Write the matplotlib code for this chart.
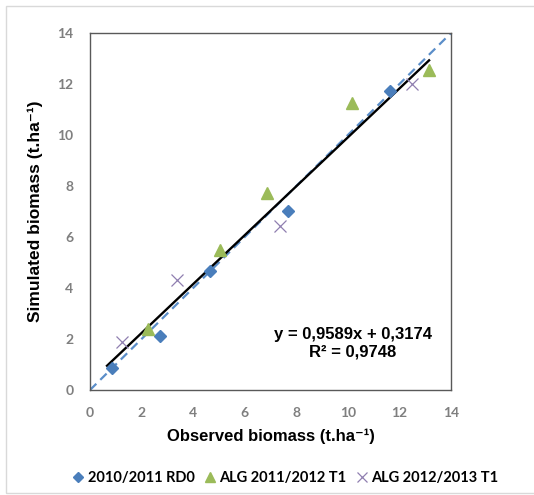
import matplotlib.pyplot as plt
from matplotlib.patches import Rectangle

# observed / simulated biomass (t.ha-1)
obs_rd0 = [0.86, 2.71, 4.65, 7.69, 11.65]
sim_rd0 = [0.87, 2.13, 4.68, 7.03, 11.74]

obs_t1_1112 = [2.26, 5.04, 6.85, 10.17, 13.15]
sim_t1_1112 = [2.38, 5.49, 7.74, 11.24, 12.55]

obs_t1_1213 = [1.25, 3.36, 7.36, 12.49]
sim_t1_1213 = [1.90, 4.31, 6.44, 11.99]

slope, intercept = 0.9589, 0.3174
r2_text = "R² = 0,9748"
eq_text = "y = 0,9589x + 0,3174"
ticks = [0, 2, 4, 6, 8, 10, 12, 14]

fig = plt.figure(figsize=(5.34, 4.95), dpi=100)
ax = fig.add_axes([90/534, 105/495, 361/534, 357/495])

# 1:1 line
ax.plot([0, 14], [0, 14], ls=(0, (4, 2.5)), color='#5b8ec9', lw=1.6, zorder=1)

# trend line over the range of all observations
all_obs = obs_rd0 + obs_t1_1112 + obs_t1_1213
x0, x1 = min(all_obs) - 0.2, max(all_obs)
ax.plot([x0, x1], [slope*x0 + intercept, slope*x1 + intercept], color='black', lw=1.7, zorder=2)

ax.plot(obs_rd0, sim_rd0, 'D', color='#4a7ebb', ms=6.5, ls='none', zorder=3, label='2010/2011 RD0')
ax.plot(obs_t1_1112, sim_t1_1112, '^', color='#9bbb59', ms=9, ls='none', zorder=3, label='ALG 2011/2012 T1')
ax.plot(obs_t1_1213, sim_t1_1213, 'x', color='#8f7fb0', ms=9, mew=0.9, ls='none', zorder=3, label='ALG 2012/2013 T1')

ax.set_xlim(0, 14)
ax.set_ylim(0, 14)
ax.set_xticks(ticks)
ax.set_yticks(ticks)
ax.tick_params(length=0, labelsize=10, labelcolor='#7f7f7f', pad=12)
for lab in ax.get_xticklabels() + ax.get_yticklabels():
    lab.set_fontweight('bold')
    lab.set_family('Lato')
for s in ax.spines.values():
    s.set_color('#595959')
    s.set_linewidth(1)

lab_font = ['Liberation Sans', 'DejaVu Sans']
ax.set_xlabel('Observed biomass (t.ha⁻¹)', fontsize=12, fontweight='bold',
              family=lab_font, labelpad=7)
ax.set_ylabel('Simulated biomass (t.ha⁻¹)', fontsize=12.5, fontweight='bold',
              family=lab_font, labelpad=10)

ax.text(10.2, 1.85, eq_text + '\n' + r2_text, ha='center', va='center', fontsize=12,
        fontweight='bold', family='Liberation Sans', linespacing=1.2)

fig.legend(loc='center', bbox_to_anchor=(0.535, 1 - 478/495), ncol=3, frameon=False,
           prop={'family': 'Lato', 'weight': 'bold', 'size': 10.5},
           handlelength=0.7, handletextpad=0.3, columnspacing=0.7, markerscale=0.75)

# outer chart border
fig.patches.append(Rectangle((6/534, 2/495), 1.0, 487/495, transform=fig.transFigure,
                             fill=False, ec='#d9d9d9', lw=1))

fig.savefig('out.png', dpi=100)
